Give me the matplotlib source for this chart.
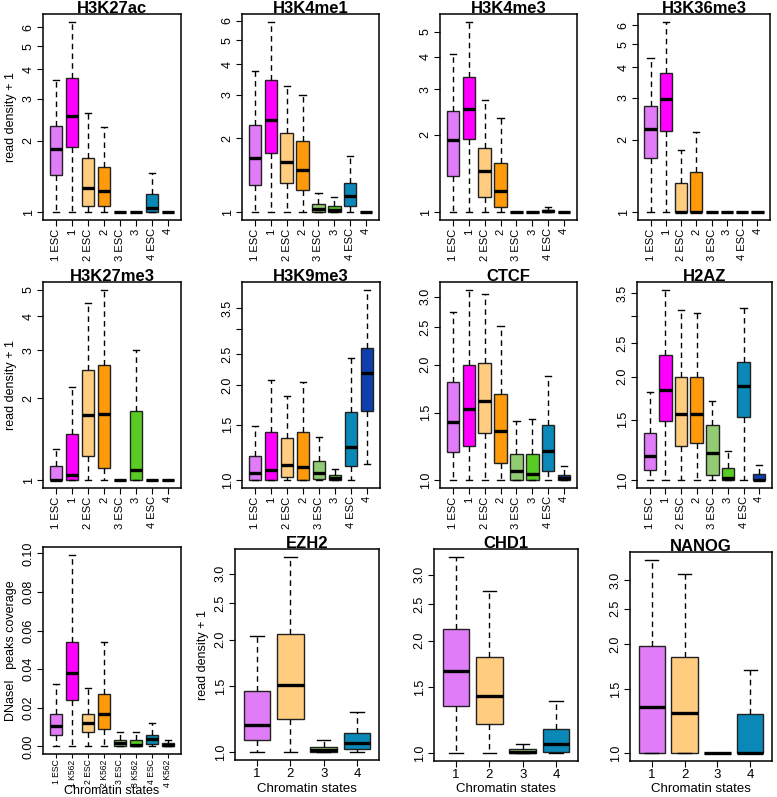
import numpy as np
import matplotlib
matplotlib.use("Agg")
from matplotlib import pyplot as plt
from matplotlib.ticker import FixedLocator, NullLocator, FixedFormatter

plt.rcParams['font.family'] = ['Liberation Sans', 'DejaVu Sans']

# categories
states8 = ["1 ESC", "1", "2 ESC", "2", "3 ESC", "3", "4 ESC", "4"]
states_dnase = ["1 ESC", "1 K562", "2 ESC", "2 K562", "3 ESC", "3 K562", "4 ESC", "4 K562"]
states4 = ["1", "2", "3", "4"]

colors8 = ["#E07CF7", "#FF00FF", "#FFCC80", "#FF9A0A", "#92CC72", "#58CC22", "#0A88B8", "#0E3FAE"]
colors4 = [colors8[0], colors8[2], colors8[4], colors8[6]]

# five numbers per box: (whislo, q1, med, q3, whishi)
h3k27ac = [(1, 1.43, 1.84, 2.30, 3.59), (1, 1.89, 2.55, 3.66, 6.35), (1, 1.06, 1.27, 1.70, 2.63),
           (1, 1.06, 1.23, 1.55, 2.29), (1, 1, 1, 1, 1), (1, 1, 1, 1, 1),
           (1, 1.0, 1.04, 1.20, 1.47), (1, 1, 1, 1, 1)]
h3k4me1 = [(1, 1.29, 1.66, 2.26, 3.75), (1, 1.75, 2.38, 3.45, 5.95), (1, 1.31, 1.60, 2.10, 3.27),
           (1, 1.23, 1.49, 1.95, 3.01), (1, 1.0, 1.03, 1.085, 1.20), (1, 1.0, 1.02, 1.06, 1.15),
           (1, 1.065, 1.16, 1.32, 1.70), (1, 1, 1, 1, 1)]
h3k4me3 = [(1, 1.38, 1.91, 2.46, 4.12), (1, 1.93, 2.52, 3.35, 5.48), (1, 1.15, 1.44, 1.78, 2.72),
           (1, 1.05, 1.21, 1.56, 2.32), (1, 1, 1, 1, 1), (1, 1, 1, 1, 1),
           (1, 1.0, 1.01, 1.02, 1.05), (1, 1, 1, 1, 1)]
h3k36me3 = [(1, 1.68, 2.22, 2.76, 4.38), (1, 2.17, 2.96, 3.81, 6.2), (1, 1.0, 1.0, 1.33, 1.82),
            (1, 1.0, 1.0, 1.47, 2.16), (1, 1, 1, 1, 1), (1, 1, 1, 1, 1),
            (1, 1, 1, 1, 1), (1, 1, 1, 1, 1)]
h3k27me3 = [(1, 1.0, 1.0, 1.13, 1.30), (1, 1.0, 1.05, 1.48, 2.19), (1, 1.23, 1.74, 2.53, 4.46),
            (1, 1.11, 1.75, 2.65, 5.0), (1, 1, 1, 1, 1), (1, 1.0, 1.09, 1.80, 3.0),
            (1, 1, 1, 1, 1), (1, 1, 1, 1, 1)]
h3k9me3 = [(1, 1.0, 1.055, 1.19, 1.48), (1, 1.0, 1.076, 1.42, 2.08), (1, 1.025, 1.12, 1.36, 1.85),
           (1, 1.0, 1.10, 1.42, 2.05), (1, 1.01, 1.055, 1.15, 1.37), (1, 1.0, 1.017, 1.037, 1.09),
           (1, 1.11, 1.27, 1.64, 2.44), (1.13, 1.66, 2.18, 2.61, 4.0)]
ctcf = [(1, 1.185, 1.42, 1.80, 2.73), (1, 1.23, 1.53, 1.99, 3.13), (1, 1.33, 1.61, 2.02, 3.05),
        (1, 1.11, 1.34, 1.68, 2.52), (1, 1.0, 1.06, 1.17, 1.43), (1, 1.0, 1.04, 1.17, 1.44),
        (1, 1.06, 1.19, 1.39, 1.87), (1, 1.0, 1.012, 1.035, 1.09)]
h2az = [(1, 1.07, 1.18, 1.37, 1.81), (1, 1.49, 1.83, 2.32, 3.58), (1, 1.26, 1.56, 2.0, 3.12),
        (1, 1.28, 1.56, 1.99, 3.07), (1, 1.04, 1.20, 1.45, 1.70), (1, 1.0, 1.018, 1.084, 1.22),
        (1, 1.53, 1.88, 2.20, 3.16), (1, 1.0, 1.005, 1.046, 1.11)]
dnase = [(0, 0.0059, 0.0104, 0.0166, 0.0324), (0, 0.0239, 0.0378, 0.0539, 0.0993),
         (0, 0.0075, 0.0123, 0.0166, 0.0302), (0, 0.0090, 0.0166, 0.0272, 0.0539),
         (0, 0.0003, 0.0017, 0.0035, 0.0075), (0, 0.0, 0.0009, 0.0031, 0.0075),
         (0, 0.0014, 0.0036, 0.0061, 0.0123), (0, 0.0, 0.0007, 0.0017, 0.0031)]
ezh2 = [(1, 1.08, 1.18, 1.46, 2.04), (1, 1.23, 1.51, 2.07, 3.33),
        (1, 1.0, 1.016, 1.031, 1.08), (1, 1.02, 1.059, 1.126, 1.28)]
chd1 = [(1, 1.34, 1.66, 2.15, 3.35), (1, 1.20, 1.42, 1.81, 2.72),
        (1, 1.0, 1.004, 1.023, 1.059), (1, 1.01, 1.055, 1.16, 1.38)]
nanog = [(1, 1.0, 1.34, 1.97, 3.41), (1, 1.0, 1.29, 1.84, 3.11),
         (1, 1, 1, 1, 1), (1, 1.0, 1.0, 1.28, 1.70)]

ticks_int6 = [1, 2, 3, 4, 5, 6]
ticks_half = [1.0, 1.5, 2.0, 2.5, 3.0, 3.5]

W, H = 777, 797
fig = plt.figure(figsize=(W / 100, H / 100), dpi=100)


def panel(px, title, stats, labels, colors, yticks, ylabels, log=True,
          ylabel=None, xlabel=None, xrot=90, xfs=8, xlab_y=789, xlab_fs=9.5):
    l, r, t, b = px
    ax = fig.add_axes([l / W, 1 - b / H, (r - l) / W, (b - t) / H])
    bstats = [dict(whislo=s[0], q1=s[1], med=s[2], q3=s[3], whishi=s[4], fliers=[]) for s in stats]
    n = len(stats)
    res = ax.bxp(bstats, positions=range(1, n + 1), widths=0.8, patch_artist=True,
                 showfliers=False, capwidths=0.4,
                 boxprops=dict(edgecolor="#222222", linewidth=1),
                 whiskerprops=dict(color="black", linestyle=(0, (4, 3)), linewidth=1),
                 capprops=dict(color="black", linewidth=1),
                 medianprops=dict(color="black", linewidth=2.4, solid_capstyle="butt"))
    for box, c in zip(res["boxes"], colors):
        box.set_facecolor(c)
    lo = min(s[0] for s in stats)
    hi = max(s[4] for s in stats)
    if log:
        ax.set_yscale("log")
        a, z = np.log(lo), np.log(hi)
        d = 0.04 * (z - a)
        ax.set_ylim(np.exp(a - d), np.exp(z + d))
    else:
        d = 0.04 * (hi - lo)
        ax.set_ylim(lo - d, hi + d)
    ax.set_xlim(0.5 - 0.04 * n, n + 0.5 + 0.04 * n)
    ax.yaxis.set_major_locator(FixedLocator(yticks))
    ax.yaxis.set_major_formatter(FixedFormatter(ylabels))
    ax.yaxis.set_minor_locator(NullLocator())
    ax.set_xticks(range(1, n + 1))
    ax.set_xticklabels(labels, rotation=xrot, fontsize=xfs)
    for lab in ax.get_yticklabels():
        lab.set_rotation(90)
        lab.set_va("center")
    ax.tick_params(direction="out", length=4, width=0.8, pad=2)
    ax.tick_params(axis="y", labelsize=9)
    for sp in ax.spines.values():
        sp.set_linewidth(1.1)
    ax.set_title(title, fontsize=12, fontweight="bold", y=1.0, pad=1)
    if ylabel:
        ax.set_ylabel(ylabel, fontsize=9, labelpad=4)
    if xlabel:
        ax.set_xlabel(xlabel, fontsize=xlab_fs)
        ax.xaxis.set_label_coords(0.5, -(xlab_y - b) / (b - t))
        ax.xaxis.label.set_va("center")
    return ax


lab6 = ["1", "2", "3", "4", "5", "6"]
panel((43, 181, 14, 220), "H3K27ac", h3k27ac, states8, colors8, ticks_int6, lab6,
      ylabel="read density + 1")
panel((242, 379, 14, 220), "H3K4me1", h3k4me1, states8, colors8, ticks_int6, lab6)
panel((440, 577, 14, 220), "H3K4me3", h3k4me3, states8, colors8, [1, 2, 3, 4, 5], lab6[:5])
panel((638, 770, 14, 220), "H3K36me3", h3k36me3, states8, colors8, ticks_int6, lab6)

panel((43, 181, 282, 488), "H3K27me3", h3k27me3, states8, colors8, [1, 2, 3, 4, 5], lab6[:5],
      ylabel="read density + 1")
panel((242, 380, 282, 488), "H3K9me3", h3k9me3, states8, colors8, ticks_half,
      ["1.0", "1.5", "2.0", "2.5", "", "3.5"])
panel((440, 577, 282, 488), "CTCF", ctcf, states8, colors8, ticks_half[:5],
      ["1.0", "1.5", "2.0", "2.5", "3.0"])
panel((637, 772, 282, 488), "H2AZ", h2az, states8, colors8, ticks_half,
      ["1.0", "1.5", "2.0", "2.5", "", "3.5"])

dn_ticks = [0.0, 0.02, 0.04, 0.06, 0.08, 0.10]
ax_dn = panel((43, 181, 547, 754), "", dnase, states_dnase, colors8, dn_ticks,
              ["0.00", "0.02", "0.04", "0.06", "0.08", "0.10"], log=False,
              ylabel="DNaseI   peaks coverage", xlabel="Chromatin states", xfs=6.2,
              xlab_y=791, xlab_fs=9)
ax_dn.tick_params(axis="x", length=3, pad=1)
half_lab = ["1.0", "1.5", "2.0", "2.5", "3.0"]
panel((235, 379, 549, 760), "EZH2", ezh2, states4, colors4, ticks_half[:5], half_lab,
      ylabel="read density + 1", xlabel="Chromatin states", xrot=0, xfs=9.5)
panel((434, 578, 549, 761), "CHD1", chd1, states4, colors4, ticks_half[:5], half_lab,
      xlabel="Chromatin states", xrot=0, xfs=9.5)
panel((630, 772, 552, 761), "NANOG", nanog, states4, colors4, ticks_half[:5], half_lab,
      xlabel="Chromatin states", xrot=0, xfs=9.5)

fig.savefig("out.png", dpi=100)
